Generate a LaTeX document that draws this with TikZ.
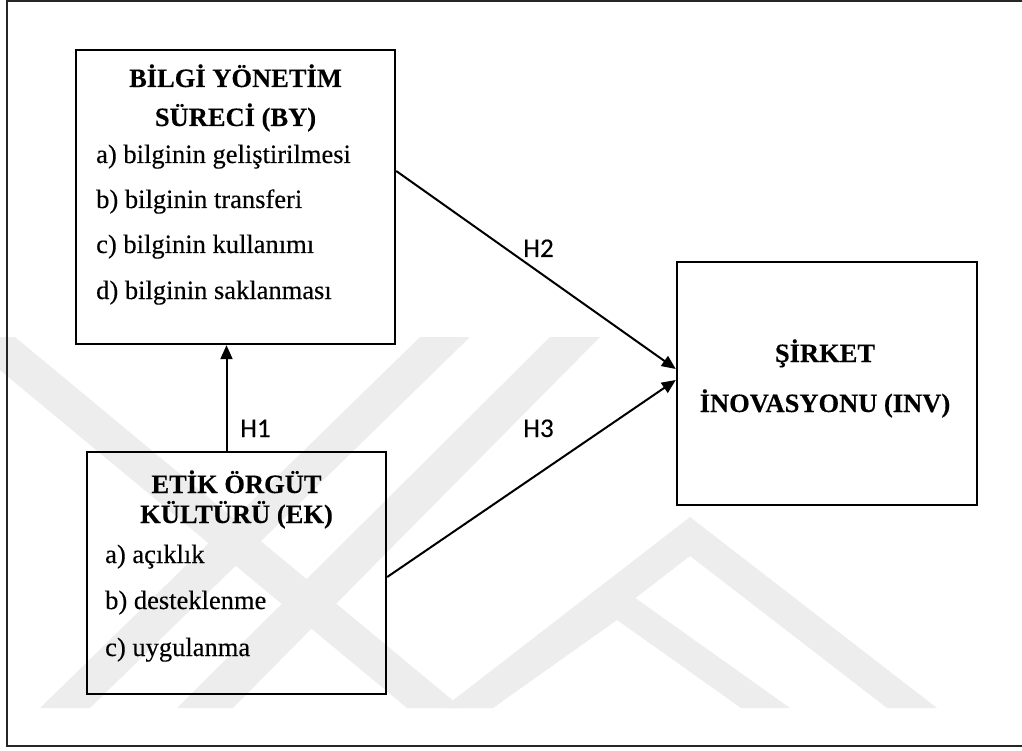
\documentclass[tikz,border=0pt]{standalone}
\usepackage{fontspec}
\setmainfont{Liberation Serif}[FakeBold=0.3]
\newfontfamily\labelfont{Carlito}[FakeBold=0.3]
\usetikzlibrary{arrows.meta}
\begin{document}
\begin{tikzpicture}[x=1pt,y=-1pt,
  box/.style={draw=black, line width=2.4pt, inner sep=0pt},
  txt/.style={inner sep=0pt, anchor=base, font=\fontsize{26.5}{30}\selectfont},
  ttl/.style={txt, font=\fontsize{26.5}{30}\selectfont\bfseries},
  itm/.style={txt, anchor=base west},
  hlab/.style={inner sep=0pt, anchor=base west, font=\labelfont\fontsize{27}{30}\selectfont},
  arr/.style={line width=2pt, -{Triangle[length=14pt,width=12pt]}},
  wm/.style={fill=black!7}]
\useasboundingbox (0,0) rectangle (1022,751);
\clip (0,0) rectangle (1022,751);

% faint background emblem
\begin{scope}
  \clip (-20,337) rectangle (1040,708);
  \fill[wm] (40,708) -- (90,708) -- (470,337) -- (420,337) -- cycle;
  \fill[wm] (177,708) -- (233,708) -- (600,337) -- (550,337) -- cycle;
  \fill[wm] (-40,337) -- (15,337) -- (462,708) -- (407,708) -- cycle;
  \fill[wm] (443,708) -- (690,517) -- (937,708) -- (887,708) -- (690,556) -- (493,708) -- cycle;
  \fill[wm] (444,708) -- (617,585) -- (790,708) -- (741,708) -- (617,620) -- (493,708) -- cycle;
\end{scope}

% page frame
\draw[line width=2pt, black!85] (1030,1.5) -- (7,1.5) -- (7,746) -- (1030,746);

% boxes
\node[box, minimum width=319pt, minimum height=294pt] (BY) at (235.5,197) {};
\node[box, minimum width=299pt, minimum height=242pt] (EK) at (236.5,573) {};
\node[box, minimum width=300pt, minimum height=243pt] (INV) at (827,383.5) {};

% knowledge management process
\node[ttl] (byt1) at (235.5,87) {BİLGİ YÖNETİM};
\node[ttl] (byt2) at (235.5,126) {SÜRECİ (BY)};
\node[itm] (bya) at (96,163) {a) bilginin geliştirilmesi};
\node[itm] (byb) at (96,208) {b) bilginin transferi};
\node[itm] (byc) at (96,253) {c) bilginin kullanımı};
\node[itm] (byd) at (96,299) {d) bilginin saklanması};

% ethical organisational culture
\node[ttl] (ekt1) at (236.5,493) {ETİK ÖRGÜT};
\node[ttl] (ekt2) at (236.5,523) {KÜLTÜRÜ (EK)};
\node[itm] (eka) at (105,563) {a) açıklık};
\node[itm] (ekb) at (105,609) {b) desteklenme};
\node[itm] (ekc) at (105,656) {c) uygulanma};

% firm innovation
\node[ttl] (invt1) at (825,362) {ŞİRKET};
\node[ttl] (invt2) at (825,412) {İNOVASYONU (INV)};

% hypotheses
\draw[arr] ([xshift=-10pt]EK.north) -- ([xshift=-9pt]BY.south);
\draw[arr] ([yshift=26pt]BY.east) -- ([yshift=14.5pt]INV.west);
\draw[arr] ([yshift=-4pt]EK.east) -- ([yshift=3.5pt]INV.west);

\node[hlab] (h1) at (240,437) {H1};
\node[hlab] (h2) at (523,257) {H2};
\node[hlab] (h3) at (523,437) {H3};
\end{tikzpicture}
\end{document}
